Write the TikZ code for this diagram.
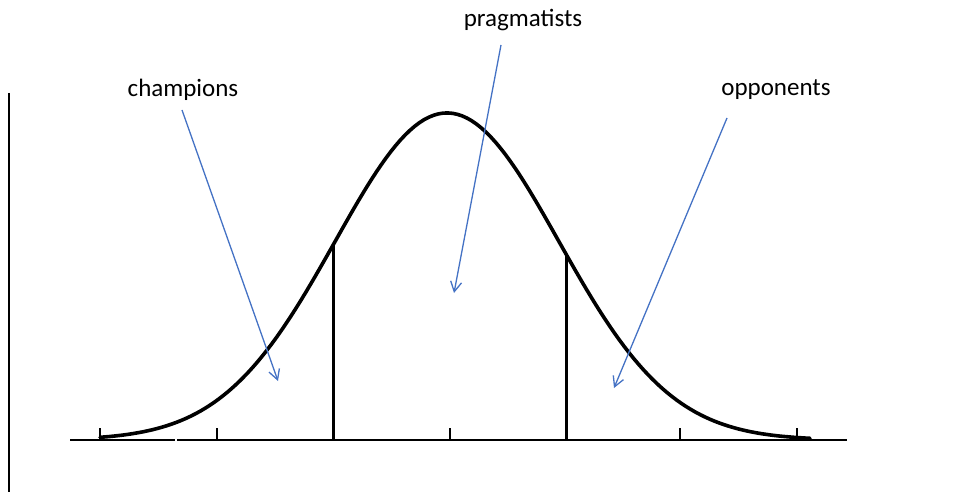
\documentclass[tikz,border=0pt]{standalone}
\usepackage{fontspec}
\setmainfont{Carlito}
\usepackage{tikz}
\usetikzlibrary{arrows.meta}
\definecolor{pointblue}{RGB}{68,114,196}
\tikzset{
  groupname/.style={inner sep=2pt,font=\fontsize{25}{30}\selectfont},
  pointer/.style={-{Straight Barb[length=10pt,width=11pt]},draw=pointblue,line width=1.3pt},
  bellline/.style={draw=black,line width=3.6pt,line cap=round},
  axisline/.style={draw=black,line width=2.2pt},
  tickmark/.style={draw=black,line width=2.2pt},
  splitline/.style={draw=black,line width=3pt}
}

\begin{document}
\begin{tikzpicture}[x=1pt,y=-1pt]
  \useasboundingbox (0,0) rectangle (962,492);
  % left frame line
  \draw[line width=1.8pt] (9,93) -- (9,492);
  % axis with ticks
  \draw[axisline] (70,440) -- (175,440);
  \draw[axisline] (177,440) -- (847,440);
  \foreach \t in {100,217,450,680,797}
    \draw[tickmark] (\t,428) -- (\t,440);
  % bell curve
  \draw[bellline] plot[domain=100:810,samples=150]
    (\x,{440-327*exp(-0.5*((\x-447)/112)^2)});
  % group boundaries
  \draw[splitline] (333,245) -- (333,440);
  \draw[splitline] (566,255) -- (566,440);
  % labels
  \node[groupname] (champ) at (183,90) {champions};
  \node[groupname] (prag) at (523,20) {pragmatists};
  \node[groupname] (oppo) at (776,90) {opponents};
  \coordinate (champfrom) at (182,110);
  \coordinate (champto) at (278,381);
  \coordinate (pragfrom) at (501,45);
  \coordinate (pragto) at (454,293);
  \coordinate (oppofrom) at (727,118);
  \coordinate (oppoto) at (614,388);
  \draw[pointer] (champfrom) -- (champto);
  \draw[pointer] (pragfrom) -- (pragto);
  \draw[pointer] (oppofrom) -- (oppoto);
\end{tikzpicture}
\end{document}
